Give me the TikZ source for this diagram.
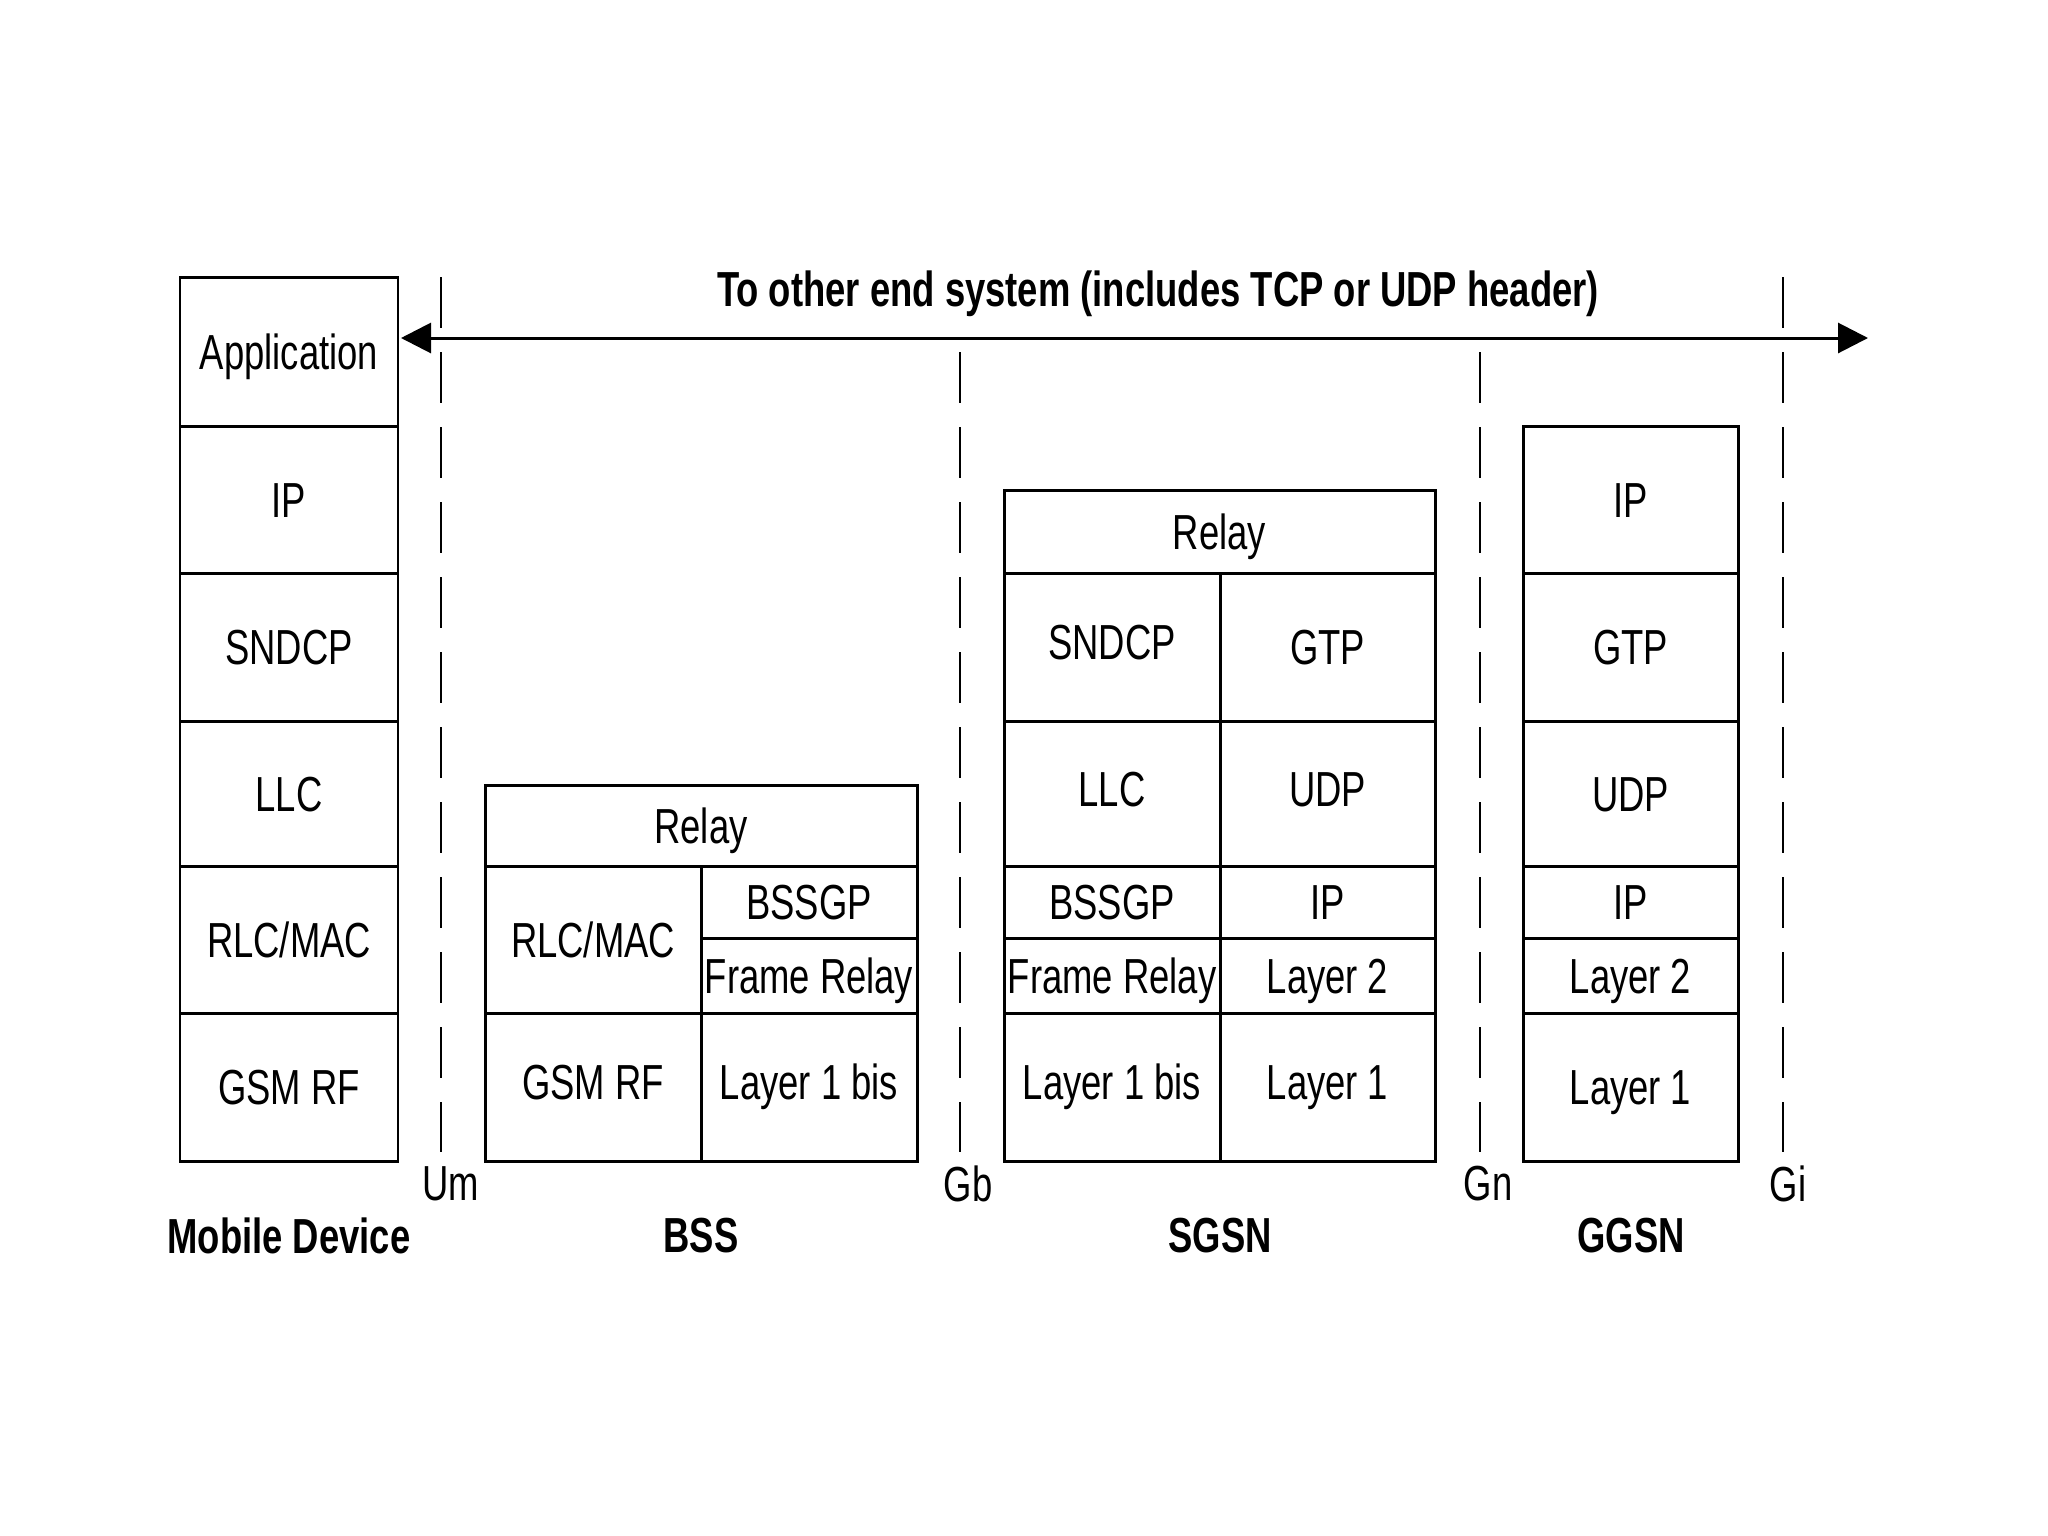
\documentclass[tikz,border=0pt]{standalone}
\usepackage{fontspec}
\setmainfont{Liberation Sans}[FakeStretch=0.74]
\usetikzlibrary{arrows.meta,fit}
\begin{document}
\begin{tikzpicture}[x=0.01cm,y=-0.01cm,
  cell/.style={draw, line width=0.85pt, inner sep=0pt, outer sep=0pt},
  ctext/.style={font=\fontsize{14}{16}\selectfont, inner sep=0pt,
    text height=0.43cm, text depth=0.08cm},
  iface/.style={line width=0.6pt, dash pattern=on 0.51cm off 0.24cm},
  lbl/.style={font=\fontsize{14}{16}\selectfont, inner sep=0pt},
  blbl/.style={font=\fontsize{14}{16}\selectfont\bfseries, inner sep=0pt}]
\useasboundingbox (0,0) rectangle (2048,1536);
% Mobile device
\node[cell, fit={(180,277)(398,426)}, label={[ctext]center:Application}] (mApp) {};
\node[cell, fit={(180,426)(398,573)}, label={[ctext]center:IP}] (mIP) {};
\node[cell, fit={(180,573)(398,721)}, label={[ctext]center:SNDCP}] (mSND) {};
\node[cell, fit={(180,721)(398,866)}, label={[ctext]center:LLC}] (mLLC) {};
\node[cell, fit={(180,866)(398,1013)}, label={[ctext]center:RLC/MAC}] (mRLC) {};
\node[cell, fit={(180,1013)(398,1161)}, label={[ctext]center:GSM RF}] (mRF) {};
% BSS
\node[cell, fit={(485,785)(917,866)}, label={[ctext]center:Relay}] (bRelay) {};
\node[cell, fit={(485,866)(701,1013)}, label={[ctext]center:RLC/MAC}] (bRLC) {};
\node[cell, fit={(701,866)(917,938)}, label={[ctext]center:BSSGP}] (bBSSGP) {};
\node[cell, fit={(701,938)(917,1013)}, label={[ctext]center:Frame Relay}] (bFR) {};
\node[cell, fit={(485,1013)(701,1161)}, label={[ctext, yshift=0.05cm]center:GSM RF}] (bRF) {};
\node[cell, fit={(701,1013)(917,1161)}, label={[ctext, yshift=0.05cm]center:Layer 1 bis}] (bL1) {};
% SGSN
\node[cell, fit={(1004,490)(1435,573)}, label={[ctext]center:Relay}] (sRelay) {};
\node[cell, fit={(1004,573)(1220,721)}, label={[ctext, yshift=0.05cm]center:SNDCP}] (sSND) {};
\node[cell, fit={(1220,573)(1435,721)}, label={[ctext]center:GTP}] (sGTP) {};
\node[cell, fit={(1004,721)(1220,866)}, label={[ctext, yshift=0.05cm]center:LLC}] (sLLC) {};
\node[cell, fit={(1220,721)(1435,866)}, label={[ctext, yshift=0.05cm]center:UDP}] (sUDP) {};
\node[cell, fit={(1004,866)(1220,938)}, label={[ctext]center:BSSGP}] (sBSSGP) {};
\node[cell, fit={(1220,866)(1435,938)}, label={[ctext]center:IP}] (sIP) {};
\node[cell, fit={(1004,938)(1220,1013)}, label={[ctext]center:Frame Relay}] (sFR) {};
\node[cell, fit={(1220,938)(1435,1013)}, label={[ctext]center:Layer 2}] (sL2) {};
\node[cell, fit={(1004,1013)(1220,1161)}, label={[ctext, yshift=0.05cm]center:Layer 1 bis}] (sL1b) {};
\node[cell, fit={(1220,1013)(1435,1161)}, label={[ctext, yshift=0.05cm]center:Layer 1}] (sL1) {};
% GGSN
\node[cell, fit={(1523,426)(1738,573)}, label={[ctext]center:IP}] (gIP) {};
\node[cell, fit={(1523,573)(1738,721)}, label={[ctext]center:GTP}] (gGTP) {};
\node[cell, fit={(1523,721)(1738,866)}, label={[ctext]center:UDP}] (gUDP) {};
\node[cell, fit={(1523,866)(1738,938)}, label={[ctext]center:IP}] (gIP2) {};
\node[cell, fit={(1523,938)(1738,1013)}, label={[ctext]center:Layer 2}] (gL2) {};
\node[cell, fit={(1523,1013)(1738,1161)}, label={[ctext]center:Layer 1}] (gL1) {};
% interface lines
\coordinate (umT) at (441,277); \coordinate (umB) at (441,1152);
\coordinate (gbT) at (960,352); \coordinate (gbB) at (960,1152);
\coordinate (gnT) at (1480,352); \coordinate (gnB) at (1480,1152);
\coordinate (giT) at (1783,277); \coordinate (giB) at (1783,1152);
\draw[iface] (umT) -- (umB);
\draw[iface] (gbT) -- (gbB);
\draw[iface] (gnT) -- (gnB);
\draw[iface] (giT) -- (giB);
\node[lbl] (um) at (451,1184) {Um};
\node[lbl] (gb) at (968,1184) {Gb};
\node[lbl] (gn) at (1488,1184) {Gn};
\node[lbl] (gi) at (1788,1184) {Gi};
% end-to-end arrow
\coordinate (arrL) at (401,338);
\coordinate (arrR) at (1868,338);
\draw[line width=0.85pt, {Triangle[length=0.3cm,width=0.3cm]}-{Triangle[length=0.3cm,width=0.3cm]}] (arrL) -- (arrR);
\node[blbl] (title) at (1158,294) {To other end system (includes TCP or UDP header)};
% entity labels
\node[blbl] (lMob) at (289,1236) {Mobile Device};
\node[blbl] (lBSS) at (701,1236) {BSS};
\node[blbl] (lSGSN) at (1220,1236) {SGSN};
\node[blbl] (lGGSN) at (1631,1236) {GGSN};
\end{tikzpicture}
\end{document}
